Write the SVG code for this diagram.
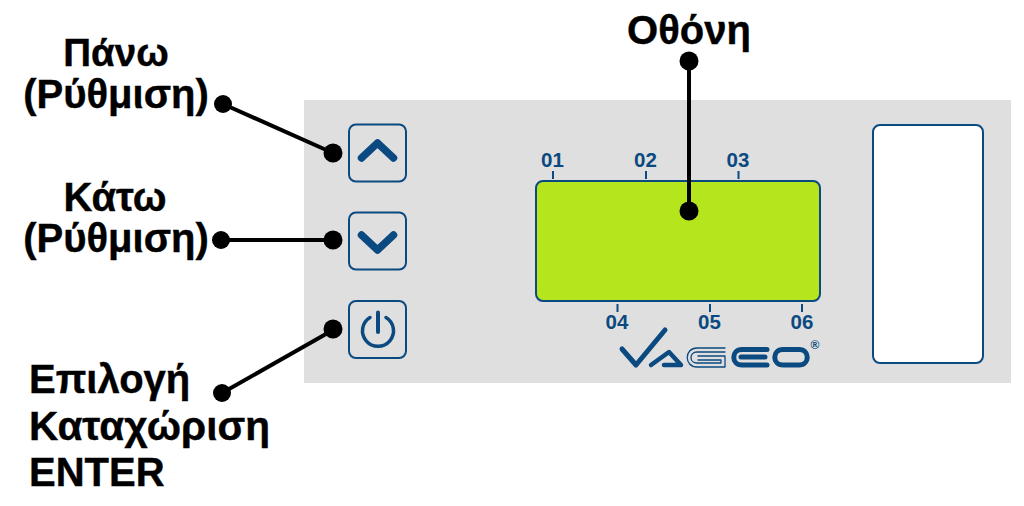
<svg xmlns="http://www.w3.org/2000/svg" width="1024" height="506" viewBox="0 0 1024 506">
<style>
.lbl{font-family:"Liberation Sans",Arial,sans-serif;font-weight:700;font-size:40px;fill:#000;stroke:#000;stroke-width:.4}
.num{font-family:"Liberation Sans",Arial,sans-serif;font-weight:700;font-size:20.500px;fill:#0b4a80;text-anchor:middle}
.box{fill:none;stroke:#0b4a80;stroke-width:2}
.ic{fill:none;stroke:#0b4a80;stroke-width:7.500;stroke-linecap:round;stroke-linejoin:round}
.tick{stroke:#0b4a80;stroke-width:2}
.con{stroke:#000;stroke-width:4;fill:none}
.v{fill:none;stroke:#0b4a80;stroke-linecap:round;stroke-linejoin:round}
</style>
<rect width="1024" height="506" fill="#fff"/>
<rect id="panel" x="304" y="100" width="707" height="283" fill="#dfdfdf"/>
<g id="btn-up"><rect class="box" x="349" y="124.500" width="57" height="57" rx="7"/><path class="ic" d="M361.500 158L377.500 143L393.500 158"/></g>
<g id="btn-down"><rect class="box" x="349" y="212.500" width="57" height="57" rx="7"/><path class="ic" d="M361.500 235L377.500 250L393.500 235"/></g>
<g id="btn-power"><rect class="box" x="349" y="301" width="57" height="57" rx="7"/><path class="ic" style="stroke-width:3.500" d="M370 317.500A15.500 15.500 0 1 0 386 317.500"/><path class="ic" style="stroke-width:4" d="M378 312.500V332"/></g>
<g id="display">
<rect x="536" y="181" width="284" height="120" rx="7" fill="#b5e61d" stroke="#0b4a80" stroke-width="2"/>
<path class="tick" d="M553 171V179M646 171V179M738.500 171V179M617.500 304V312M710 304V312M802 304V312"/>
<text class="num" x="552.500" y="167">01</text><text class="num" x="645.500" y="167">02</text><text class="num" x="738" y="167">03</text>
<text class="num" x="617" y="329">04</text><text class="num" x="709.500" y="329">05</text><text class="num" x="802" y="329">06</text>
</g>
<g id="logo">
<path class="v" stroke-width="5" d="M622 349L636 365L665 330"/>
<path class="v" stroke-width="4.500" d="M651 365L669 352L681 365H664"/>
<path class="v" stroke-width="1.300" d="M725 348H697C684 348 684 367 697 367H725V356H698M725 352H697C689 352 689 363 697 363H721V360H698"/>
<path class="v" stroke-width="5" d="M767 349.500H742C731 349.500 731 365 742 365H767M741 357H765"/>
<path class="v" stroke-width="5" d="M783 349.500H799C810 349.500 810 365 799 365H783C772 365 772 349.500 783 349.500Z"/>
<text x="815" y="349" text-anchor="middle" style="font-family:'Liberation Sans',Arial,sans-serif;font-size:12px;font-weight:700;fill:#0b4a80">®</text>
</g>
<rect id="side-window" x="873" y="125" width="110" height="238" rx="7" fill="#fff" stroke="#0b4a80" stroke-width="2"/>
<g id="connectors">
<path class="con" d="M223 104L333 153M221 240H333M222 393L333 330M689 61V211"/>
<circle cx="223" cy="104" r="9"/><circle cx="333" cy="153" r="9.500"/>
<circle cx="221" cy="240" r="9"/><circle cx="333" cy="240" r="9.500"/>
<circle cx="222" cy="393" r="9"/><circle cx="333" cy="329" r="9.500"/>
<circle cx="689" cy="61" r="9.500"/><circle cx="689" cy="211" r="9.500"/>
</g>
<g id="labels">
<text class="lbl" text-anchor="middle"><tspan x="116" y="66" style="font-size:38.500px">Πάνω</tspan><tspan x="116" y="108">(Ρύθμιση)</tspan></text>
<text class="lbl" text-anchor="middle"><tspan x="115" y="211">Κάτω</tspan><tspan x="116" y="252">(Ρύθμιση)</tspan></text>
<text class="lbl" x="29" y="393">Επιλογή</text>
<text class="lbl" x="29" y="440" textLength="241" lengthAdjust="spacingAndGlyphs">Καταχώριση</text>
<text class="lbl" x="29" y="486">ENTER</text>
<text class="lbl" x="689" y="44" text-anchor="middle">Οθόνη</text>
</g>
</svg>
